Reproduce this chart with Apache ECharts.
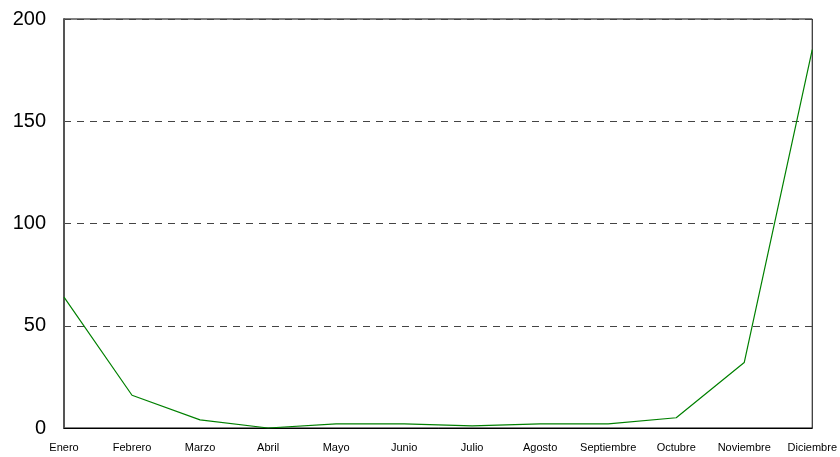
<!DOCTYPE html>
<html>
<head>
<meta charset="utf-8">
<script src="https://cdn.jsdelivr.net/npm/echarts@6/dist/echarts.min.js"></script>
<style>
  html, body { margin: 0; padding: 0; background: #fff; }
  #chart { width: 840px; height: 457px; }
</style>
</head>
<body>
<div id="chart"></div>
<script>
// meses y valores
var meses = ['Enero', 'Febrero', 'Marzo', 'Abril', 'Mayo', 'Junio', 'Julio',
  'Agosto', 'Septiembre', 'Octubre', 'Noviembre', 'Diciembre'];
var valores = [64, 16, 4, 0, 2, 2, 1, 2, 2, 5, 32, 185];
var yMin = 0, yMax = 200, yStep = 50;

var myChart = echarts.init(document.getElementById('chart'));
var option = {
  animation: false,
  backgroundColor: '#fff',
  grid: {
    left: 64,
    right: 25,
    top: 19,
    bottom: 29,
    show: true,
    borderColor: '#000',
    borderWidth: 1
  },
  xAxis: {
    type: 'category',
    data: meses,
    boundaryGap: false,
    axisLine: { show: true, lineStyle: { color: '#000', width: 1 } },
    axisTick: { show: false },
    axisLabel: {
      interval: 0,
      color: '#000',
      fontFamily: 'Liberation Sans, Arial, sans-serif',
      fontSize: 11,
      margin: 14
    },
    splitLine: { show: false }
  },
  yAxis: {
    type: 'value',
    min: yMin,
    max: yMax,
    interval: yStep,
    axisLine: { show: true, lineStyle: { color: '#555', width: 2 } },
    axisTick: { show: false },
    axisLabel: {
      color: '#000',
      fontFamily: 'Liberation Sans, Arial, sans-serif',
      fontSize: 20,
      margin: 18
    },
    splitLine: {
      show: true,
      lineStyle: { color: '#444', type: [7, 6], width: 1 }
    }
  },
  series: [{
    type: 'line',
    data: valores,
    showSymbol: false,
    lineStyle: { color: '#008000', width: 1.2 },
    itemStyle: { color: '#008000' }
  }]
};
myChart.setOption(option);
</script>
</body>
</html>
